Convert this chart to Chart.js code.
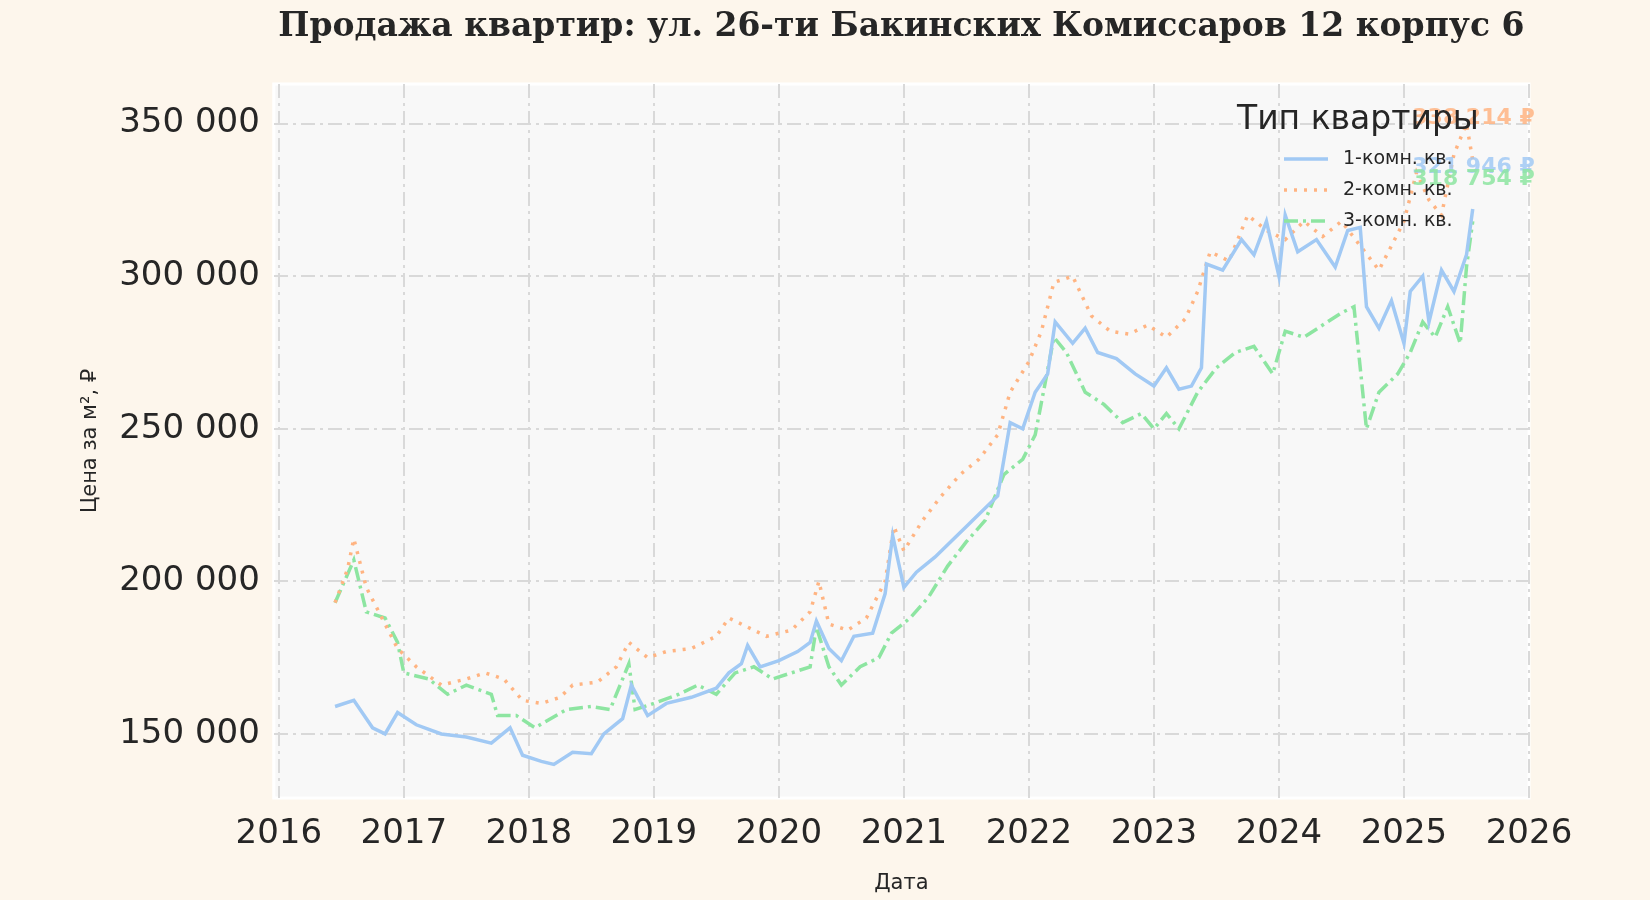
<!DOCTYPE html>
<html>
<head>
<meta charset="utf-8">
<script src="https://cdn.jsdelivr.net/npm/chart.js@4"></script>
<style>
  html, body { margin: 0; padding: 0; background: #fdf6ec; }
  #wrap { width: 1650px; height: 900px; }
</style>
</head>
<body>
<div id="wrap"><canvas id="chart"></canvas></div>
<script>
const seriesNames = ['1-комн. кв.', '2-комн. кв.', '3-комн. кв.'];
const lastLabels = ['321 946 ₽', '338 214 ₽', '318 754 ₽'];
const yTicks = [150000, 200000, 250000, 300000, 350000];

const oneRoomX = [2016.45,2016.6,2016.75,2016.85,2016.95,2017.1,2017.3,2017.5,2017.7,2017.85,2017.95,2018.1,2018.2,2018.35,2018.5,2018.6,2018.75,2018.82,2018.95,2019.1,2019.3,2019.5,2019.6,2019.7,2019.75,2019.85,2020.0,2020.15,2020.25,2020.3,2020.4,2020.5,2020.6,2020.75,2020.85,2020.91,2021.0,2021.1,2021.25,2021.35,2021.5,2021.6,2021.75,2021.8,2021.85,2021.95,2022.05,2022.15,2022.21,2022.35,2022.45,2022.55,2022.7,2022.85,2023.0,2023.1,2023.2,2023.3,2023.38,2023.42,2023.55,2023.7,2023.8,2023.9,2024.0,2024.05,2024.15,2024.3,2024.45,2024.55,2024.65,2024.7,2024.8,2024.9,2025.0,2025.05,2025.15,2025.2,2025.3,2025.4,2025.5,2025.55];
const oneRoomY = [159000,161000,152000,150000,157000,153000,150000,149000,147000,152000,143000,141000,140000,144000,143500,150000,155000,166000,156000,160000,162000,165000,170000,173000,179000,172000,174000,177000,180000,187000,178000,174000,182000,183000,196000,215000,198000,203000,208000,212000,218000,222000,228000,240000,252000,250000,262000,268000,285000,278000,283000,275000,273000,268000,264000,270000,263000,264000,270000,304000,302000,312000,307000,318000,300000,320000,308000,312000,303000,315000,316000,290000,283000,292000,278000,295000,300000,285000,302000,295000,307000,322000];

const twoRoomX = [2016.45,2016.55,2016.6,2016.7,2016.8,2016.95,2017.1,2017.3,2017.5,2017.65,2017.8,2017.95,2018.1,2018.25,2018.35,2018.55,2018.7,2018.8,2018.95,2019.1,2019.3,2019.5,2019.6,2019.75,2019.9,2020.1,2020.25,2020.32,2020.4,2020.55,2020.7,2020.85,2020.92,2021.0,2021.15,2021.3,2021.45,2021.6,2021.75,2021.85,2022.0,2022.1,2022.2,2022.35,2022.5,2022.65,2022.8,2022.95,2023.1,2023.25,2023.35,2023.45,2023.6,2023.75,2023.9,2024.05,2024.2,2024.35,2024.5,2024.65,2024.8,2024.9,2025.0,2025.1,2025.2,2025.3,2025.4,2025.5,2025.55];
const twoRoomY = [193000,204000,214000,198000,190000,178000,172000,166000,168000,170000,168000,161000,160000,162000,166000,167000,172000,180000,175000,177000,178000,182000,188000,185000,182000,184000,190000,200000,186000,184000,188000,200000,218000,210000,220000,228000,235000,240000,248000,262000,272000,282000,298000,300000,287000,282000,281000,284000,280000,286000,295000,308000,305000,320000,315000,312000,318000,313000,318000,310000,302000,310000,318000,334000,325000,320000,340000,350000,338000];

const threeRoomX = [2016.45,2016.6,2016.7,2016.85,2016.95,2017.0,2017.2,2017.35,2017.5,2017.7,2017.75,2017.9,2018.05,2018.3,2018.5,2018.65,2018.8,2018.85,2019.0,2019.2,2019.35,2019.5,2019.65,2019.8,2019.95,2020.1,2020.25,2020.3,2020.4,2020.5,2020.65,2020.8,2020.9,2021.05,2021.2,2021.35,2021.5,2021.65,2021.8,2021.95,2022.05,2022.2,2022.3,2022.45,2022.6,2022.75,2022.9,2023.0,2023.1,2023.2,2023.35,2023.5,2023.65,2023.8,2023.95,2024.05,2024.2,2024.35,2024.5,2024.6,2024.65,2024.7,2024.8,2024.95,2025.05,2025.15,2025.25,2025.35,2025.45,2025.5,2025.55];
const threeRoomY = [193000,207000,190000,188000,180000,170000,168000,163000,166000,163000,156000,156000,152000,158000,159000,158000,173000,158000,160000,163000,166000,163000,170000,172000,168000,170000,172000,185000,172000,166000,172000,175000,183000,188000,195000,205000,213000,220000,235000,240000,248000,280000,275000,262000,258000,252000,255000,250000,255000,250000,262000,270000,275000,277000,268000,282000,280000,284000,288000,290000,270000,250000,262000,268000,275000,285000,280000,290000,278000,303000,318000];

const colors = ['#a1c9f4', '#ffb482', '#8de5a1'];
const dashes = [[], [3, 7], [14, 5, 3, 5]];
const title = 'Продажа квартир: ул. 26-ти Бакинских Комиссаров 12 корпус 6';

function toPoints(xs, ys) {
  return xs.map((x, i) => ({ x: x, y: ys[i] }));
}
const allData = [toPoints(oneRoomX, oneRoomY), toPoints(twoRoomX, twoRoomY), toPoints(threeRoomX, threeRoomY)];

const fmt = v => String(v).replace(/\B(?=(\d{3})+(?!\d))/g, ' ');

// plot area background, border and the title centred over it
const bgPlugin = {
  id: 'bg',
  beforeDraw(chart) {
    const a = chart.chartArea, c = chart.ctx;
    c.save();
    c.fillStyle = '#f8f8f8';
    c.fillRect(a.left, a.top, a.right - a.left, a.bottom - a.top);
    c.strokeStyle = '#ffffff';
    c.lineWidth = 3;
    c.strokeRect(a.left, a.top, a.right - a.left, a.bottom - a.top);
    c.fillStyle = '#262626';
    c.font = 'bold 33px "DejaVu Serif"';
    c.textAlign = 'center';
    c.textBaseline = 'middle';
    c.fillText(title, (a.left + a.right) / 2, 27);
    c.restore();
  }
};

// end labels + legend drawn by hand
const overlayPlugin = {
  id: 'overlay',
  afterDatasetsDraw(chart) {
    const c = chart.ctx, xs = chart.scales.x, ys = chart.scales.y;
    c.save();
    c.font = 'bold 22px "DejaVu Sans"';
    c.textAlign = 'right';
    c.textBaseline = 'middle';
    allData.forEach((d, i) => {
      const last = d[d.length - 1];
      c.fillStyle = colors[i];
      c.globalAlpha = 0.85;
      c.fillText(lastLabels[i], xs.getPixelForValue(last.x) + 62, ys.getPixelForValue(last.y) - 42);
    });
    c.globalAlpha = 1;
    // legend
    c.fillStyle = '#262626';
    c.font = '33px "DejaVu Sans"';
    c.textAlign = 'left';
    c.fillText('Тип квартиры', 1237, 120);
    c.font = '19px "DejaVu Sans"';
    seriesNames.forEach((n, i) => {
      const y = 159 + i * 31;
      c.strokeStyle = colors[i];
      c.lineWidth = 3.5;
      c.setLineDash(dashes[i]);
      c.beginPath();
      c.moveTo(1284, y);
      c.lineTo(1328, y);
      c.stroke();
      c.setLineDash([]);
      c.fillStyle = '#262626';
      c.fillText(n, 1343, y);
    });
    c.restore();
  }
};

new Chart(document.getElementById('chart'), {
  type: 'line',
  data: {
    datasets: allData.map((d, i) => ({
      label: seriesNames[i],
      data: d,
      borderColor: colors[i],
      borderWidth: 3.5,
      borderDash: dashes[i],
      pointRadius: 0,
      tension: 0
    }))
  },
  options: {
    responsive: true,
    maintainAspectRatio: false,
    animation: false,
    layout: { padding: { left: 74, right: 121, top: 84, bottom: 0 } },
    plugins: {
      legend: { display: false },
      tooltip: { enabled: false },
      title: { display: false }
    },
    scales: {
      x: {
        type: 'linear',
        min: 2015.96,
        max: 2026,
        afterBuildTicks: s => { s.ticks = [2016,2017,2018,2019,2020,2021,2022,2023,2024,2025,2026].map(v => ({ value: v })); },
        ticks: { color: '#262626', font: { family: '"DejaVu Sans"', size: 34 }, callback: v => String(v), maxRotation: 0, padding: 16 },
        grid: { color: '#d9d9d9', lineWidth: 2, borderDash: [14, 5, 3, 5], drawTicks: false },
        border: { display: false, dash: [14, 5, 3, 5] },
        title: { display: true, text: 'Дата', color: '#262626', font: { family: '"DejaVu Sans"', size: 21 }, padding: { top: 0 } }
      },
      y: {
        min: 129000,
        max: 363000,
        afterBuildTicks: s => { s.ticks = yTicks.map(v => ({ value: v })); },
        ticks: { color: '#262626', font: { family: '"DejaVu Sans"', size: 34 }, callback: v => fmt(v), padding: 14 },
        grid: { color: '#d9d9d9', lineWidth: 2, drawTicks: false },
        border: { display: false, dash: [14, 5, 3, 5] },
        title: { display: true, text: 'Цена за м², ₽', color: '#262626', font: { family: '"DejaVu Sans"', size: 21 }, padding: { bottom: 2 } }
      }
    }
  },
  plugins: [bgPlugin, overlayPlugin]
});
</script>
</body>
</html>
